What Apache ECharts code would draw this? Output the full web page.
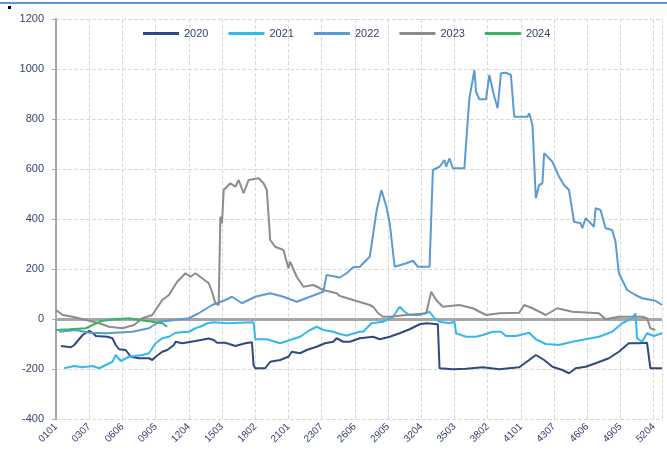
<!DOCTYPE html>
<html>
<head>
<meta charset="utf-8">
<script src="https://cdn.jsdelivr.net/npm/echarts@6/dist/echarts.min.js"></script>
<style>
  html, body { margin: 0; padding: 0; background: #fff; }
  #chart { width: 667px; height: 450px; }
</style>
</head>
<body>
<div id="chart"></div>
<script>
// 年份（图例）
const years = ['2020', '2021', '2022', '2023', '2024'];

// x轴刻度标签（周+日，每20天一个）
const tickLabels = ['0101', '0307', '0606', '0905', '1204', '1503', '1802', '2101', '2307', '2606',
  '2905', '3204', '3503', '3802', '4101', '4307', '4606', '4905', '5204'];

// 各年数据 [第几天(从0起), 数值]
const s2020 = [[3,-108],[9,-113],[11,-104],[16,-64],[20,-47],[22,-55],[24,-68],[31,-71],[34,-77],[36,-104],
  [38,-121],[42,-124],[45,-151],[50,-157],[56,-157],[58,-164],[60,-151],[64,-131],[67,-124],[71,-104],
  [72,-91],[76,-97],[84,-88],[92,-78],[95,-84],[97,-95],[102,-95],[108,-108],[114,-97],[118,-93],
  [119,-184],[120,-197],[126,-197],[129,-171],[135,-164],[140,-151],[142,-131],[147,-137],[151,-124],[157,-111],
  [162,-97],[167,-91],[169,-77],[173,-91],[177,-91],[183,-77],[191,-71],[195,-81],[201,-71],[207,-57],
  [213,-41],[219,-21],[223,-17],[230,-21],[231,-197],[239,-201],[247,-199],[257,-193],[267,-201],[279,-193],
  [285,-164],[289,-144],[294,-164],[299,-191],[305,-204],[309,-217],[313,-197],[319,-191],[325,-177],[333,-157],
  [339,-131],[345,-97],[351,-97],[356,-95],[358,-197],[365,-197]];

const s2021 = [[5,-197],[11,-188],[16,-193],[22,-188],[26,-197],[30,-184],[34,-171],[36,-144],[39,-168],[44,-151],
  [52,-144],[56,-137],[60,-97],[64,-77],[68,-71],[72,-55],[80,-51],[84,-37],[88,-28],[91,-17],
  [95,-13],[103,-17],[111,-15],[119,-13],[120,-81],[127,-81],[135,-97],[141,-84],[147,-71],[153,-44],
  [157,-31],[161,-44],[167,-51],[171,-60],[175,-66],[183,-51],[185,-51],[190,-17],[197,-11],[203,9],
  [207,49],[210,29],[213,16],[219,16],[225,29],[228,3],[231,-11],[237,-17],[240,-11],[241,-57],
  [247,-71],[253,-71],[257,-64],[263,-51],[268,-51],[271,-68],[277,-68],[285,-55],[289,-81],[295,-100],
  [303,-104],[311,-91],[319,-81],[327,-71],[335,-51],[341,-17],[347,3],[349,23],[350,-77],[353,-91],
  [356,-57],[360,-68],[365,-57]];

const s2022 = [[2,-51],[12,-44],[20,-55],[30,-57],[46,-51],[56,-37],[62,-11],[72,-4],[80,3],[86,23],
  [94,56],[102,76],[106,89],[112,63],[120,89],[129,103],[137,89],[145,69],[153,89],[161,109],
  [163,176],[171,166],[175,183],[179,207],[183,209],[187,236],[189,249],[193,429],[196,516],[199,449],
  [201,383],[202,376],[204,209],[211,223],[215,233],[218,209],[225,209],[227,596],[231,609],[234,636],
  [235,609],[237,643],[239,603],[246,603],[247,703],[249,883],[252,996],[253,909],[255,879],[259,879],
  [261,976],[264,889],[266,843],[268,983],[271,985],[274,976],[276,809],[284,809],[285,823],[287,776],
  [289,483],[291,536],[293,543],[294,663],[299,629],[303,569],[306,536],[309,516],[312,389],[316,383],
  [317,363],[319,403],[322,383],[324,369],[325,443],[328,436],[331,363],[335,356],[337,309],[339,183],
  [342,143],[344,116],[349,96],[353,83],[361,73],[365,56]];

const s2023 = [[0,36],[4,16],[10,9],[18,-4],[26,-17],[32,-31],[40,-37],[47,-24],[52,3],[58,16],
  [64,76],[68,96],[73,149],[78,183],[81,169],[84,183],[88,163],[92,143],[94,109],[96,63],
  [98,56],[99,409],[100,383],[101,516],[105,543],[108,529],[110,556],[113,503],[116,556],[122,563],
  [125,543],[127,516],[129,316],[132,289],[137,276],[140,203],[141,229],[145,169],[149,129],[155,136],
  [161,116],[169,103],[171,92],[179,76],[189,56],[191,49],[194,23],[197,9],[201,9],[211,16],
  [223,23],[226,109],[229,76],[233,49],[243,56],[251,43],[259,16],[267,23],[279,25],[282,56],
  [287,43],[295,16],[302,43],[311,29],[327,23],[331,-1],[339,9],[353,9],[356,3],[358,-37],
  [361,-44]];

const s2024 = [[0,-44],[8,-41],[18,-37],[22,-24],[28,-7],[36,-1],[44,3],[50,-4],[58,-11],[64,-17],[67,-31]];

const seriesData = [s2020, s2021, s2022, s2023, s2024];
const colors = ['#2f4a80', '#33b8ef', '#5b9bd5', '#8c8c8c', '#3cb064'];

const textColor = '#34426e';
const font = 'Liberation Sans';

const myChart = echarts.init(document.getElementById('chart'));

const series = years.map((name, i) => {
    const s = {
        name: name,
        type: 'line',
        data: seriesData[i],
        symbol: 'none',
        lineStyle: { width: 2, color: colors[i] },
        itemStyle: { color: colors[i] },
        z: 3 + i
    };
    // 0轴粗灰线
    if (i === 0) {
        s.markLine = {
            silent: true,
            symbol: ['none', 'none'],
            label: { show: false },
            lineStyle: { color: '#a6a6a6', width: 3, type: 'solid' },
            data: [{ yAxis: 0 }],
            z: 2
        };
    }
    return s;
});

myChart.setOption({
    animation: false,
    color: colors,
    graphic: [
        { type: 'line', shape: { x1: 0, y1: 3, x2: 667, y2: 3 }, style: { stroke: '#5b9bd5', lineWidth: 2 } },
        { type: 'rect', shape: { x: 8, y: 6, width: 3, height: 3 }, style: { fill: '#000' } }
    ],
    legend: {
        data: years,
        top: 23,
        left: 138,
        itemWidth: 36,
        itemHeight: 3,
        itemGap: 20,
        icon: 'rect',
        textStyle: { color: textColor, fontSize: 11, fontFamily: font }
    },
    grid: { left: 56, right: 5, top: 19, bottom: 31, containLabel: false },
    xAxis: {
        type: 'value',
        min: 0,
        max: 365,
        interval: 20,
        axisLine: { show: true, lineStyle: { color: '#d0d0d0', width: 1 } },
        axisTick: { show: false },
        splitLine: { show: true, lineStyle: { color: '#d9d9d9', type: 'dashed', width: 1 } },
        axisLabel: {
            rotate: 45,
            fontSize: 10,
            fontFamily: font,
            color: textColor,
            margin: 6,
            showMaxLabel: false,
            formatter: v => (v % 20 === 0 && tickLabels[v / 20]) ? tickLabels[v / 20] : ''
        }
    },
    yAxis: {
        type: 'value',
        min: -400,
        max: 1200,
        interval: 200,
        axisLine: { show: true, lineStyle: { color: '#a6a6a6', width: 2 } },
        axisTick: { show: true, length: 4, lineStyle: { color: '#a6a6a6' } },
        splitLine: { show: true, lineStyle: { color: '#d9d9d9', type: 'dashed', width: 1 } },
        axisLabel: { fontSize: 11, fontFamily: font, color: textColor, margin: 12, formatter: v => String(v) }
    },
    series: series
});
</script>
</body>
</html>
